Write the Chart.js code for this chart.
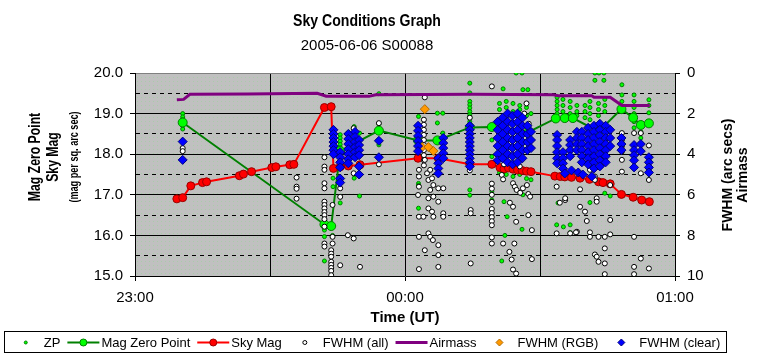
<!DOCTYPE html>
<html>
<head>
<meta charset="utf-8">
<title>Sky Conditions Graph</title>
<script src="https://cdn.jsdelivr.net/npm/chart.js@4.4.1/dist/chart.umd.min.js"></script>
<style>
  html, body { margin: 0; padding: 0; background: #fff; }
  #wrap { position: relative; width: 766px; height: 362px; }
</style>
</head>
<body>
<div id="wrap"><canvas id="skyChart" width="766" height="362"></canvas></div>
<script>
// ------------------------------------------------------------
// Sky Conditions Graph — Excel-style night log redrawn in Chart.js
// x values are minutes after 23:00 UT
// ------------------------------------------------------------

const CHART_TITLE = 'Sky Conditions Graph';
const CHART_SUBTITLE = '2005-06-06 S00088';
const leftTitleLines = ['Mag Zero Point', 'Sky Mag', '(mag per sq. arc sec)'];
const rightTitleLines = ['FWHM (arc secs)', 'Airmass'];
const xTitle = 'Time (UT)';

const timeRange = [0, 120];
const timeTickValues = [0, 60, 120];
const timeTickLabels = ['23:00', '00:00', '01:00'];
const magRange = [15, 20];
const fwhmRange = [0, 10];

// ZP: individual zero point measurements (mag)
const zpPoints = [
  [10.6, 19.0], [10.6, 18.92], [10.6, 18.85], [10.6, 18.7], [10.6, 18.62],
  [42.1, 16.13], [42.1, 15.97], [42.1, 15.37], [44.0, 17.41], [44.0, 17.2], [43.9, 16.0],
  [45.6, 18.48], [45.6, 18.4], [45.6, 18.32], [45.6, 18.24], [45.6, 18.16], [45.6, 16.95], [45.6, 16.8],
  [47.3, 18.52], [48.7, 18.68], [48.7, 17.41], [49.9, 18.52], [49.9, 16.97],
  [54.2, 19.49], [54.2, 18.74], [54.2, 18.23],
  [63.0, 18.93], [63.0, 18.64], [63.0, 17.28], [63.0, 17.23], [63.0, 16.67],
  [67.2, 19.01], [67.2, 18.77], [68.4, 19.01], [68.4, 18.52],
  [74.4, 19.75], [74.4, 19.51], [74.4, 19.3], [74.4, 19.22], [74.4, 19.14], [74.4, 19.05],
  [74.4, 18.97], [74.4, 18.89], [74.4, 18.8], [74.4, 17.12], [74.4, 16.99],
  [79.3, 18.35], [79.3, 17.94], [79.3, 17.08], [79.3, 16.87],
  [81.8, 19.61], [84.7, 20.0], [86.0, 20.0], [86.2, 19.59], [87.3, 19.59],
  [81.0, 19.25], [81.0, 19.1], [81.0, 17.55], [82.5, 19.3], [82.5, 19.15], [82.5, 17.5],
  [84.0, 19.25], [84.0, 19.05], [84.0, 17.45], [85.5, 19.2], [85.5, 19.1], [85.5, 17.5],
  [87.0, 19.15], [87.0, 18.95], [87.0, 17.4], [88.0, 19.0], [88.0, 17.37],
  [82.0, 16.83], [82.7, 16.46], [82.2, 16.0], [81.5, 15.37], [84.4, 17.2], [86.2, 17.0], [86.0, 16.15],
  [93.8, 19.4], [93.8, 19.3], [93.8, 19.2], [93.8, 19.1], [93.8, 19.0],
  [95.1, 19.35], [95.1, 19.2], [95.1, 19.05], [96.7, 19.3], [96.7, 19.15], [96.7, 19.0],
  [98.2, 19.2], [98.2, 19.05], [98.2, 18.95],
  [93.7, 16.26], [95.2, 16.21], [96.7, 16.26], [96.7, 16.07], [94.0, 16.8],
  [102.2, 20.0], [103.1, 20.0], [104.2, 20.0], [102.2, 19.82], [104.2, 19.82],
  [100.0, 19.2], [100.0, 19.05], [100.0, 18.9], [101.1, 19.3], [101.1, 19.15], [101.1, 19.0], [101.1, 18.85],
  [103.0, 19.25], [103.0, 19.1], [103.0, 18.95], [104.4, 19.35], [104.4, 19.2], [104.4, 19.05],
  [101.1, 16.81], [104.4, 17.04], [105.6, 16.97],
  [108.2, 19.71], [108.2, 19.46], [108.2, 19.3], [108.2, 19.17],
  [110.9, 19.46], [110.9, 19.3], [110.9, 19.15], [110.9, 19.0], [110.9, 18.8], [110.9, 18.65],
  [112.4, 18.72], [112.4, 18.55], [112.4, 18.4],
  [114.2, 19.34], [114.2, 19.2], [114.2, 19.02]
];

// Mag Zero Point: averaged per frame (mag)
const magZeroPoint = [
  [10.6, 18.78], [42.1, 16.27], [43.6, 16.23], [45.6, 18.08], [54.2, 18.58],
  [62.9, 18.34], [67.2, 18.34], [74.4, 18.66], [79.3, 18.67], [87.5, 18.55],
  [93.5, 18.88], [95.5, 18.89], [97.3, 18.89], [103.0, 18.56], [108.1, 19.11],
  [110.7, 18.9], [112.4, 18.72], [114.2, 18.76]
];

// Sky Mag (mag per sq. arc sec)
const skyMag = [
  [9.3, 16.9], [10.6, 16.93], [12.4, 17.22], [15.0, 17.3], [15.9, 17.32],
  [23.2, 17.47], [24.1, 17.51], [25.9, 17.57], [30.4, 17.67], [31.3, 17.69],
  [34.4, 17.74], [35.3, 17.75], [42.1, 19.15], [43.6, 19.17], [44.1, 17.65],
  [45.6, 17.69], [47.4, 17.71], [50.0, 17.74], [62.9, 17.9], [67.4, 17.9],
  [74.4, 17.75], [79.3, 17.75], [81.1, 17.67], [82.0, 17.64], [83.0, 17.66],
  [84.0, 17.63], [85.0, 17.61], [86.0, 17.6], [87.0, 17.58], [88.0, 17.57],
  [93.3, 17.46], [94.5, 17.45], [95.5, 17.44], [97.0, 17.43], [98.9, 17.41],
  [101.0, 17.38], [103.0, 17.32], [104.0, 17.3], [105.6, 17.27], [108.1, 17.01],
  [110.7, 16.94], [112.6, 16.87], [114.3, 16.83]
];

// FWHM (all) in arc secs
const fwhmAll = [
  [10.6, 3.7], [10.6, 3.85],
  [35.9, 5.15], [35.9, 5.6], [35.9, 5.7], [35.9, 6.19],
  [42.1, 4.15], [42.1, 4.61], [42.1, 4.77], [42.1, 5.43], [42.1, 5.68], [42.1, 6.34], [42.1, 6.5],
  [42.1, 6.67], [42.1, 6.85], [42.1, 7.0], [42.1, 7.2], [42.1, 7.57], [42.1, 8.4], [42.1, 8.55],
  [43.9, 2.8], [43.9, 6.5], [43.9, 8.07], [43.9, 8.4], [43.6, 8.73], [43.6, 8.9], [43.6, 9.05],
  [43.6, 9.3], [43.6, 9.45], [43.6, 9.6], [43.6, 9.75], [43.6, 9.96],
  [45.6, 5.68], [45.6, 6.1], [45.6, 9.47], [47.3, 7.99], [48.6, 2.72], [48.6, 4.94], [48.6, 8.15],
  [50.0, 9.55], [54.2, 2.47], [54.2, 4.5],
  [64.4, 1.2], [64.2, 2.3], [64.2, 2.55], [64.2, 2.8], [64.2, 3.05], [64.2, 3.3], [64.2, 3.55],
  [64.2, 3.8], [64.2, 4.05], [64.2, 4.3], [64.2, 4.55],
  [63.1, 4.77], [63.1, 5.1], [63.1, 5.6], [62.9, 6.01], [63.1, 7.08], [63.1, 8.07], [63.1, 9.66],
  [64.4, 4.28], [64.9, 4.94], [65.2, 5.27], [65.6, 4.77], [66.0, 5.19], [66.3, 5.52], [65.6, 5.76],
  [65.2, 6.17], [66.3, 6.09], [67.4, 5.68], [68.5, 5.68], [67.4, 6.34], [65.2, 6.67], [66.0, 6.83],
  [66.3, 7.08], [64.1, 7.08], [68.5, 6.91], [68.5, 7.08], [65.2, 7.9], [65.6, 8.07], [66.2, 8.23],
  [67.4, 8.48], [64.4, 8.73], [67.4, 8.97], [67.4, 9.55],
  [74.4, 2.2], [74.4, 4.8], [74.6, 6.75], [74.6, 6.91], [74.6, 9.38],
  [79.3, 0.66], [79.3, 5.45], [79.3, 5.7], [79.3, 6.0], [79.3, 6.35], [79.3, 6.7], [79.3, 6.9],
  [79.3, 7.1], [79.3, 7.3], [79.3, 7.5], [79.3, 8.1], [79.3, 8.4],
  [84.5, 2.3], [86.5, 2.0], [87.5, 2.5], [85.5, 4.6], [82.0, 4.5], [87.0, 1.5],
  [81.5, 5.02], [81.8, 5.24], [84.0, 5.43], [84.4, 5.6], [84.8, 5.76], [85.6, 5.9], [86.2, 5.68],
  [87.1, 5.52], [87.4, 5.96], [87.8, 6.09], [84.0, 6.59], [83.3, 6.39], [84.7, 7.33], [84.3, 8.4],
  [83.2, 8.81], [83.7, 9.19], [84.0, 9.68], [84.7, 9.88], [81.8, 8.4], [87.4, 7.0], [88.2, 7.74], [88.2, 9.17],
  [93.7, 5.6], [94.4, 6.39], [95.6, 6.26], [95.6, 6.17], [93.7, 7.9], [96.7, 7.9], [98.2, 7.82],
  [98.9, 6.59], [98.9, 5.73], [100.0, 6.83], [100.4, 7.29], [98.0, 7.85], [101.1, 7.85], [101.1, 8.07],
  [103.0, 8.07], [104.4, 8.07], [105.6, 7.95], [102.2, 8.94], [102.6, 9.05], [103.0, 9.3], [104.4, 8.64],
  [105.6, 7.24], [104.4, 9.38], [104.4, 9.91], [101.1, 4.61], [101.1, 4.77], [102.6, 6.17], [102.6, 6.34],
  [105.6, 5.52], [102.2, 5.1], [102.2, 5.27],
  [108.2, 2.96], [108.2, 3.3], [108.2, 3.6], [108.2, 3.87], [108.2, 4.28], [108.2, 4.86],
  [110.9, 2.96], [110.9, 8.07], [110.9, 9.55], [110.9, 9.91],
  [112.4, 2.96], [112.4, 4.94], [112.4, 9.14],
  [114.2, 3.57], [114.2, 5.27], [114.2, 9.63]
];

// Airmass
const airmass = [
  [9.3, 1.32], [10.8, 1.3], [12.2, 1.05], [25.0, 1.03], [40.5, 1.0], [42.5, 1.14],
  [52.0, 1.15], [53.5, 1.07], [75.0, 1.05], [93.0, 1.07], [94.0, 1.12], [101.5, 1.12],
  [102.0, 1.19], [105.6, 1.19], [108.2, 1.6], [114.4, 1.6]
];

// FWHM (RGB) in arc secs
const fwhmRgb = [
  [64.4, 1.78], [63.8, 3.65], [65.2, 3.65], [66.3, 3.84]
];

// FWHM (clear) in arc secs
const fwhmClear = [
  [10.6, 3.38], [10.6, 4.28],
  [44.1, 2.8], [44.1, 3.0], [44.1, 3.2], [44.1, 3.4], [44.1, 3.6], [44.1, 3.8], [44.1, 4.0],
  [45.6, 3.9], [45.6, 4.15], [45.6, 4.4], [45.6, 4.65], [45.6, 5.2], [45.6, 5.4],
  [47.4, 3.0], [47.4, 3.25], [47.4, 3.5], [47.4, 3.75], [47.4, 4.0], [47.4, 4.25], [47.4, 4.45],
  [48.9, 2.9], [48.9, 3.15], [48.9, 3.4], [48.9, 3.65], [48.9, 3.9], [48.9, 4.15],
  [49.8, 3.3], [49.8, 3.55], [49.8, 3.8], [49.8, 4.05], [49.8, 4.6], [49.8, 5.0],
  [54.2, 3.34], [54.2, 4.15],
  [62.9, 2.6], [62.9, 2.85], [62.9, 3.1], [62.9, 3.35], [62.9, 3.6], [62.9, 3.85],
  [67.4, 4.2], [67.4, 4.45], [67.4, 4.7], [67.4, 4.95],
  [68.5, 3.2], [68.5, 3.45], [68.5, 3.7], [68.5, 3.95], [68.5, 4.2],
  [74.4, 2.6], [74.4, 2.8], [74.4, 3.0], [74.4, 3.2], [74.4, 3.4], [74.4, 3.6], [74.4, 3.8],
  [74.4, 4.0], [74.4, 4.2], [74.4, 4.4], [74.4, 4.6],
  [80.6, 2.4], [80.6, 2.8], [80.6, 3.2], [80.6, 3.6], [80.6, 4.0], [80.6, 4.3],
  [81.7, 2.2], [81.7, 2.6], [81.7, 3.0], [81.7, 3.4], [81.7, 3.8], [81.7, 4.2],
  [82.8, 2.0], [82.8, 2.4], [82.8, 2.8], [82.8, 3.2], [82.8, 3.6], [82.8, 4.0], [82.8, 4.4],
  [83.9, 2.1], [83.9, 2.5], [83.9, 2.9], [83.9, 3.3], [83.9, 3.7], [83.9, 4.1], [83.9, 4.5],
  [85.0, 2.0], [85.0, 2.4], [85.0, 2.8], [85.0, 3.2], [85.0, 3.6], [85.0, 4.0], [85.0, 4.4],
  [86.1, 2.2], [86.1, 2.6], [86.1, 3.0], [86.1, 3.4], [86.1, 3.8], [86.1, 4.2],
  [87.2, 2.6], [87.2, 3.0], [87.2, 3.4], [87.2, 3.8], [88.0, 2.9], [88.0, 3.3], [88.0, 3.7],
  [93.8, 3.05], [93.8, 3.3], [93.8, 3.6], [93.8, 3.9], [93.8, 4.2], [93.8, 4.45],
  [95.1, 3.9], [95.1, 4.2], [95.1, 4.45], [95.1, 4.7], [95.5, 4.95],
  [96.7, 3.3], [96.7, 3.55], [96.7, 3.8], [96.7, 4.1], [97.0, 4.8],
  [98.2, 2.9], [98.2, 3.2], [98.2, 3.5], [98.2, 3.8], [98.5, 4.9],
  [99.3, 2.9], [99.3, 3.2], [99.3, 3.5], [99.3, 3.8], [99.3, 4.1], [99.3, 4.4], [99.5, 5.0],
  [100.7, 2.7], [100.7, 3.0], [100.7, 3.3], [100.7, 3.6], [100.7, 3.9], [100.7, 4.2], [100.7, 4.5],
  [101.5, 5.1],
  [102.0, 2.6], [102.0, 2.9], [102.0, 3.2], [102.0, 3.5], [102.0, 3.8], [102.0, 4.1], [102.0, 4.4], [102.0, 4.7],
  [103.3, 2.5], [103.3, 2.8], [103.3, 3.1], [103.3, 3.4], [103.3, 3.7], [103.3, 4.0], [103.3, 4.3], [103.3, 4.6],
  [104.6, 2.6], [104.6, 2.9], [104.6, 3.2], [104.6, 3.5], [104.6, 3.8], [104.6, 4.1], [104.6, 4.4],
  [105.6, 2.8], [105.6, 3.2], [105.6, 3.6],
  [108.1, 3.2], [108.1, 3.5], [108.1, 3.8],
  [110.9, 3.55], [110.9, 3.8], [110.9, 4.05], [110.9, 4.3], [110.9, 4.65],
  [112.4, 3.5], [112.4, 3.85],
  [114.2, 4.15], [114.2, 4.4], [114.2, 4.65], [114.2, 4.9]
];

const SANS = '"Liberation Sans", Arial, Helvetica, sans-serif';
const CLEAR = 'rgba(0,0,0,0)';

const toXY = pts => pts.map(([x, y]) => ({ x, y }));
const tickValue = ctx => (ctx && ctx.tick ? ctx.tick.value : null);

// gray plot fill with the faint green speckle Excel uses
function makePlotPattern(ctx) {
  const tile = document.createElement('canvas');
  tile.width = 4;
  tile.height = 4;
  const t = tile.getContext('2d');
  t.fillStyle = '#C0C0C0';
  t.fillRect(0, 0, 4, 4);
  t.fillStyle = '#A8CCA8';
  t.fillRect(1, 1, 1, 1);
  return ctx.createPattern(tile, 'repeat');
}

// Excel squeezes some title text; emulate with a horizontal scale
function condensedText(ctx, text, x, y, font, sx, angle) {
  ctx.save();
  ctx.translate(x, y);
  if (angle) ctx.rotate(angle);
  ctx.scale(sx, 1);
  ctx.font = font;
  ctx.fillText(text, 0, 0);
  ctx.restore();
}

function drawMarker(ctx, style, x, y, r, fill, stroke) {
  ctx.beginPath();
  if (style === 'rectRot') {
    ctx.moveTo(x, y - r);
    ctx.lineTo(x + r, y);
    ctx.lineTo(x, y + r);
    ctx.lineTo(x - r, y);
    ctx.closePath();
  } else {
    ctx.arc(x, y, r, 0, Math.PI * 2);
  }
  ctx.fillStyle = fill;
  ctx.fill();
  ctx.lineWidth = 1;
  ctx.strokeStyle = stroke;
  ctx.stroke();
}

// legend drawn as Excel does: line sample with marker, boxed row at the bottom
function drawLegend(chart) {
  const ctx = chart.ctx;
  const sampleW = 32, textGap = 2, itemGap = 7;
  const cy = 342;
  ctx.save();
  ctx.font = '13px ' + SANS;
  const items = chart.data.datasets.map(ds => ({ ds, w: ctx.measureText(ds.label).width }));
  const total = items.reduce((s, it) => s + sampleW + textGap + it.w, 0) + itemGap * (items.length - 1);
  let x = 365 - total / 2;

  ctx.strokeStyle = '#000';
  ctx.lineWidth = 1;
  ctx.strokeRect(4.5, 331.5, 722, 21);

  items.forEach(({ ds, w }) => {
    const mid = x + sampleW / 2;
    if (ds.showLine) {
      ctx.beginPath();
      ctx.moveTo(x, cy + 0.5);
      ctx.lineTo(x + sampleW, cy + 0.5);
      ctx.strokeStyle = ds.borderColor;
      ctx.lineWidth = ds.borderWidth;
      ctx.stroke();
    }
    if (ds.pointRadius > 0) {
      drawMarker(ctx, ds.pointStyle, mid, cy + 0.5, ds.legendRadius,
        ds.pointBackgroundColor, ds.pointBorderColor);
    }
    ctx.fillStyle = '#000';
    ctx.textAlign = 'left';
    ctx.textBaseline = 'middle';
    ctx.fillText(ds.label, x + sampleW + textGap, cy + 1);
    x += sampleW + textGap + w + itemGap;
  });
  ctx.restore();
}

const excelFrame = {
  id: 'excelFrame',
  beforeDraw(chart) {
    const { ctx, chartArea: a } = chart;
    ctx.save();
    ctx.fillStyle = '#fff';
    ctx.fillRect(0, 0, chart.width, chart.height);
    ctx.fillStyle = makePlotPattern(ctx);
    ctx.fillRect(a.left, a.top, a.right - a.left, a.bottom - a.top);
    ctx.restore();
  },
  afterDraw(chart) {
    const { ctx, chartArea: a } = chart;
    ctx.save();
    ctx.fillStyle = '#000';
    ctx.textAlign = 'center';
    ctx.textBaseline = 'middle';

    // titles
    condensedText(ctx, CHART_TITLE, 367, 22, 'bold 16px ' + SANS, 0.88, 0);
    ctx.font = '15px ' + SANS;
    ctx.fillText(CHART_SUBTITLE, 367, 46);

    // x axis title
    ctx.font = 'bold 15px ' + SANS;
    ctx.fillText(xTitle, (a.left + a.right) / 2, 318);

    // left axis title, three stacked lines
    const leftFonts = ['bold 17px ' + SANS, 'bold 17px ' + SANS, 'bold 12px ' + SANS];
    const leftScale = [0.72, 0.72, 0.76];
    const leftX = [35, 53, 75];
    leftTitleLines.forEach((txt, i) => {
      condensedText(ctx, txt, leftX[i], 157, leftFonts[i], leftScale[i], -Math.PI / 2);
    });

    // right axis title
    const rightX = [728, 743];
    rightTitleLines.forEach((txt, i) => {
      condensedText(ctx, txt, rightX[i], 175, 'bold 14px ' + SANS, 1, -Math.PI / 2);
    });
    ctx.restore();

    drawLegend(chart);
  }
};

Chart.defaults.font.family = SANS;
Chart.defaults.font.size = 15;
Chart.defaults.color = '#000';

new Chart(document.getElementById('skyChart'), {
  type: 'scatter',
  data: {
    datasets: [
      {
        label: 'ZP',
        data: toXY(zpPoints),
        yAxisID: 'yMag',
        showLine: false,
        pointStyle: 'circle',
        pointRadius: 2,
        legendRadius: 1.5,
        pointBackgroundColor: '#00FF00',
        pointBorderColor: '#008000',
        pointBorderWidth: 1,
        order: 7
      },
      {
        label: 'Mag Zero Point',
        data: toXY(magZeroPoint),
        yAxisID: 'yMag',
        showLine: true,
        borderColor: '#008000',
        borderWidth: 2,
        pointStyle: 'circle',
        pointRadius: 4.5,
        legendRadius: 3.5,
        pointBackgroundColor: '#00FF00',
        pointBorderColor: '#008000',
        pointBorderWidth: 1,
        order: 6
      },
      {
        label: 'Sky Mag',
        data: toXY(skyMag),
        yAxisID: 'yMag',
        showLine: true,
        borderColor: '#FF0000',
        borderWidth: 2,
        pointStyle: 'circle',
        pointRadius: 4,
        legendRadius: 3.5,
        pointBackgroundColor: '#FF0000',
        pointBorderColor: '#990000',
        pointBorderWidth: 1,
        order: 5
      },
      {
        label: 'FWHM (all)',
        data: toXY(fwhmAll),
        yAxisID: 'yFwhm',
        showLine: false,
        pointStyle: 'circle',
        pointRadius: 2.5,
        legendRadius: 2,
        pointBackgroundColor: '#FFFFFF',
        pointBorderColor: '#000000',
        pointBorderWidth: 1,
        order: 4
      },
      {
        label: 'Airmass',
        data: toXY(airmass),
        yAxisID: 'yFwhm',
        showLine: true,
        borderColor: '#800080',
        borderWidth: 3,
        pointRadius: 0,
        order: 3
      },
      {
        label: 'FWHM (RGB)',
        data: toXY(fwhmRgb),
        yAxisID: 'yFwhm',
        showLine: false,
        pointStyle: 'rectRot',
        pointRadius: 4.5,
        legendRadius: 3.5,
        pointBackgroundColor: '#FF9900',
        pointBorderColor: '#B36B00',
        pointBorderWidth: 1,
        order: 2
      },
      {
        label: 'FWHM (clear)',
        data: toXY(fwhmClear),
        yAxisID: 'yFwhm',
        showLine: false,
        pointStyle: 'rectRot',
        pointRadius: 4.5,
        legendRadius: 3.5,
        pointBackgroundColor: '#0000FF',
        pointBorderColor: '#000080',
        pointBorderWidth: 1,
        order: 1
      }
    ]
  },
  options: {
    responsive: false,
    animation: false,
    devicePixelRatio: 1,
    events: [],
    layout: { padding: { top: 73, left: 0, right: 0, bottom: 40 } },
    elements: { line: { tension: 0 } },
    plugins: {
      legend: { display: false },
      tooltip: { enabled: false },
      title: { display: false }
    },
    scales: {
      x: {
        type: 'linear',
        min: timeRange[0],
        max: timeRange[1],
        afterFit: s => { s.height = 46; },
        ticks: {
          stepSize: 30,
          autoSkip: false,
          maxRotation: 0,
          padding: 8,
          callback: v => {
            const i = timeTickValues.indexOf(v);
            return i >= 0 ? timeTickLabels[i] : '';
          }
        },
        grid: {
          color: ctx => {
            const v = tickValue(ctx);
            return v > timeRange[0] && v < timeRange[1] ? '#000' : CLEAR;
          },
          tickColor: ctx => (timeTickValues.includes(tickValue(ctx)) ? '#000' : CLEAR),
          tickLength: 5
        },
        border: { color: '#000', width: 1 }
      },
      yMag: {
        position: 'left',
        min: magRange[0],
        max: magRange[1],
        afterFit: s => { s.width = 135; },
        ticks: {
          stepSize: 0.5,
          autoSkip: false,
          padding: 7,
          callback: v => (Number.isInteger(v) ? v.toFixed(1) : '')
        },
        grid: {
          color: ctx => {
            const v = tickValue(ctx);
            if (v === magRange[1]) return '#808080';
            if (v === magRange[0]) return CLEAR;
            return '#000';
          },
          tickColor: ctx => (Number.isInteger(tickValue(ctx)) ? '#000' : CLEAR),
          tickLength: 5
        },
        border: {
          color: '#000',
          width: 1,
          dash: ctx => {
            const v = tickValue(ctx);
            return v !== null && !Number.isInteger(v) ? [4, 4] : [];
          }
        }
      },
      yFwhm: {
        position: 'right',
        reverse: true,
        min: fwhmRange[0],
        max: fwhmRange[1],
        afterFit: s => { s.width = 91; },
        ticks: { stepSize: 2, autoSkip: false, padding: 7 },
        grid: { drawOnChartArea: false, color: '#000', tickLength: 5 },
        border: { color: '#000', width: 1 }
      }
    }
  },
  plugins: [excelFrame]
});
</script>
</body>
</html>
